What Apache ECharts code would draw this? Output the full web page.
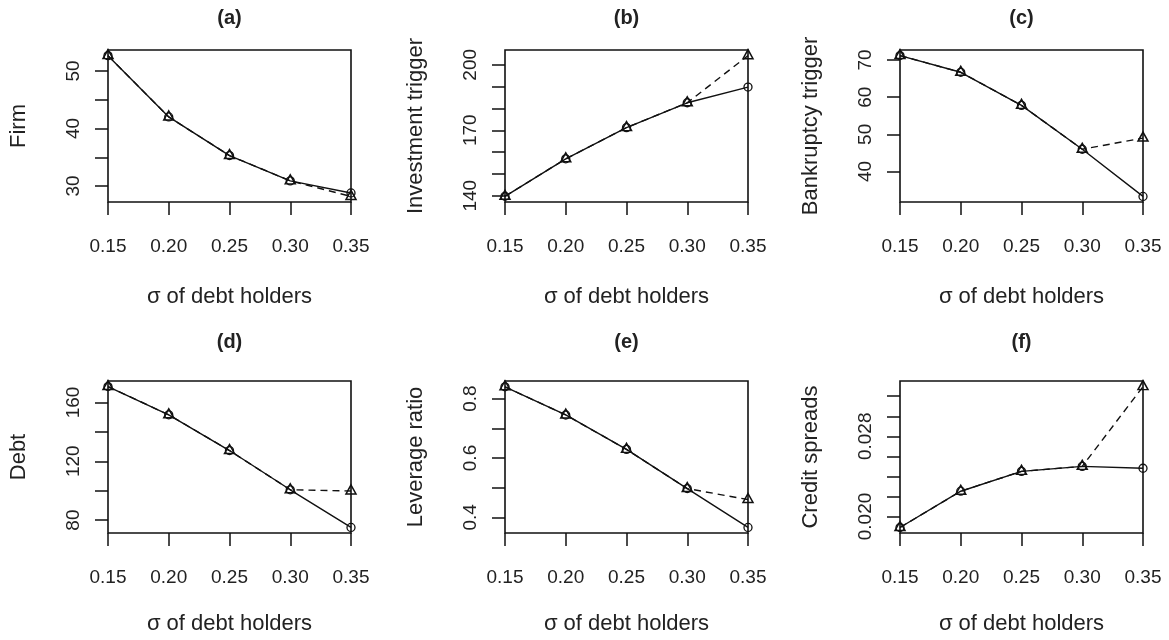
<!DOCTYPE html>
<html>
<head>
<meta charset="utf-8">
<script src="https://cdn.jsdelivr.net/npm/echarts@6/dist/echarts.min.js"></script>
<style>html,body{margin:0;padding:0;background:#fff;}#chart{width:1169px;height:640px;}</style>
</head>
<body>
<div id="chart"></div>
<script>
// ---- data ----
const sigma = [0.15, 0.20, 0.25, 0.30, 0.35];
const panelTitles = ['(a)', '(b)', '(c)', '(d)', '(e)', '(f)'];
const yNames = ['Firm', 'Investment trigger', 'Bankruptcy trigger', 'Debt', 'Leverage ratio', 'Credit spreads'];
const xName = 'σ of debt holders';

const firmSolid   = [52.65, 42.0, 35.3, 30.9, 28.8];
const firmDashed  = [52.65, 42.0, 35.3, 30.9, 28.2];
const invSolid    = [139.7, 156.9, 171.2, 182.6, 189.8];
const invDashed   = [139.7, 156.9, 171.2, 182.6, 204.2];
const bankSolid   = [71.2, 66.7, 57.8, 46.0, 33.3];
const bankDashed  = [71.2, 66.7, 57.8, 46.0, 49.0];
const debtSolid   = [170.8, 151.6, 127.3, 100.6, 75.0];
const debtDashed  = [170.8, 151.6, 127.3, 100.6, 99.8];
const levSolid    = [0.840, 0.745, 0.629, 0.497, 0.366];
const levDashed   = [0.840, 0.745, 0.629, 0.497, 0.460];
const csSolid     = [0.0189, 0.02252, 0.02450, 0.02500, 0.02481];
const csDashed    = [0.0189, 0.02252, 0.02450, 0.02500, 0.03296];

// axis ranges (R style 4% padding) and tick values
const yRanges = [[27.23, 53.63], [137.1, 206.8], [31.8, 72.7], [71.2, 174.6], [0.3473, 0.8595], [0.01835, 0.03352]];
const yTicks = [
  [30, 35, 40, 45, 50],
  [140, 150, 160, 170, 180, 190, 200],
  [40, 50, 60, 70],
  [80, 100, 120, 140, 160],
  [0.4, 0.5, 0.6, 0.7, 0.8],
  [0.020, 0.022, 0.024, 0.026, 0.028, 0.030, 0.032]
];
const yLabels = [
  [30, 40, 50],
  [140, 170, 200],
  [40, 50, 60, 70],
  [80, 120, 160],
  [0.4, 0.6, 0.8],
  [0.020, 0.028]
];
const yDecimals = [0, 0, 0, 0, 1, 3];
const xTickLabels = ['0.15', '0.20', '0.25', '0.30', '0.35'];

const solidSets = [firmSolid, invSolid, bankSolid, debtSolid, levSolid, csSolid];
const dashedSets = [firmDashed, invDashed, bankDashed, debtDashed, levDashed, csDashed];

// ---- layout ----
const gridPos = [[108, 50], [505, 50], [900, 50], [108, 381], [505, 381], [900, 381]];
const GW = 243, GH = 152;
const FONT = '"Liberation Sans", Arial, sans-serif';
const TXT = '#222';

const grid = [], xAxis = [], yAxis = [], series = [], graphic = [];
for (let i = 0; i < 6; i++) {
  const [l, t] = gridPos[i];
  const top = t === 50;
  grid.push({left: l, top: t, width: GW, height: GH, show: true, borderColor: '#111', borderWidth: 1.6, backgroundColor: 'transparent'});
  xAxis.push({
    gridIndex: i, type: 'value', min: 0.15, max: 0.35, interval: 0.05,
    axisLine: {show: false},
    axisTick: {show: true, inside: false, length: 13, lineStyle: {color: '#111', width: 1.5}},
    axisLabel: {margin: 35, fontSize: 19, fontFamily: FONT, color: TXT,
      formatter: v => { const k = Math.round((v - 0.15) / 0.05); return xTickLabels[k] !== undefined ? xTickLabels[k] : ''; }},
    splitLine: {show: false},
    name: xName, nameLocation: 'middle', nameGap: top ? 84 : 80,
    nameTextStyle: {fontSize: 22, fontFamily: FONT, color: TXT}
  });
  const dec = yDecimals[i];
  yAxis.push({
    gridIndex: i, type: 'value', min: yRanges[i][0], max: yRanges[i][1],
    axisLine: {show: false},
    axisTick: {show: true, inside: false, length: 13, lineStyle: {color: '#111', width: 1.5}, customValues: yTicks[i]},
    axisLabel: {rotate: 90, margin: 25, fontSize: 19, fontFamily: FONT, color: TXT,
      customValues: yLabels[i], formatter: v => Number(v).toFixed(dec)},
    splitLine: {show: false},
    name: yNames[i], nameLocation: 'middle', nameGap: 78,
    nameTextStyle: {fontSize: 22, fontFamily: FONT, color: TXT}
  });
  series.push({
    type: 'line', xAxisIndex: i, yAxisIndex: i,
    data: sigma.map((x, k) => [x, solidSets[i][k]]),
    symbol: 'circle', symbolSize: 8,
    itemStyle: {color: 'rgba(0,0,0,0)', borderColor: '#111', borderWidth: 1.3},
    lineStyle: {color: '#111', width: 1.4, type: 'solid'},
    emphasis: {disabled: true}, silent: true, z: 2
  });
  series.push({
    type: 'line', xAxisIndex: i, yAxisIndex: i,
    data: sigma.map((x, k) => [x, dashedSets[i][k]]),
    symbol: 'triangle', symbolSize: [10, 9], symbolOffset: [0, -1.5],
    itemStyle: {color: 'rgba(0,0,0,0)', borderColor: '#111', borderWidth: 1.5},
    lineStyle: {color: '#111', width: 1.4, type: [7, 5]},
    emphasis: {disabled: true}, silent: true, z: 3
  });
  graphic.push({
    type: 'text', x: l + GW / 2, y: top ? 18 : 342,
    style: {text: panelTitles[i], align: 'center', verticalAlign: 'middle',
      font: 'bold 20px ' + FONT, fill: TXT}
  });
}

const chart = echarts.init(document.getElementById('chart'), null, {renderer: 'canvas'});
chart.setOption({
  animation: false,
  backgroundColor: '#fff',
  grid, xAxis, yAxis, series, graphic
});
</script>
</body>
</html>
